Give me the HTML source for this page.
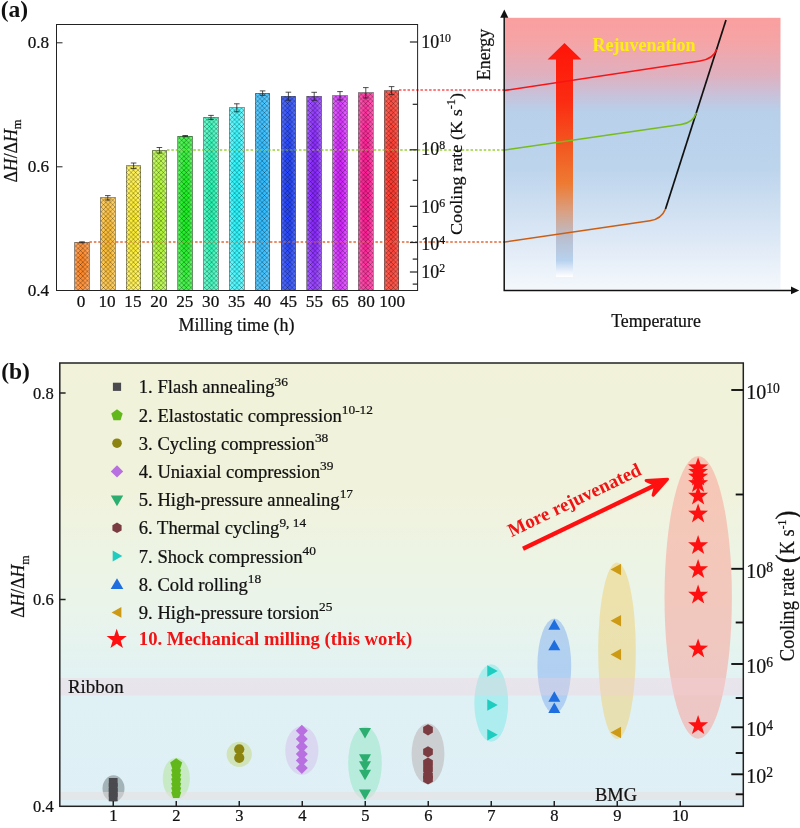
<!DOCTYPE html>
<html lang="en"><head><meta charset="utf-8"><title>Figure</title>
<style>
html,body{margin:0;padding:0;background:#fff;}
body{width:800px;height:828px;overflow:hidden;}
svg{display:block;}
text{font-family:"Liberation Serif", "DejaVu Serif", serif;fill:#111;stroke:#111;stroke-width:0.22px;}
.b{font-weight:bold;}
.i{font-style:italic;}
</style></head><body>
<svg width="800" height="828" viewBox="0 0 800 828">
<defs>
<pattern id="hatch" width="4.60" height="4.60" patternUnits="userSpaceOnUse"><path d="M-1,-1 L5.60,5.60 M-1,5.60 L5.60,-1" stroke="#000" stroke-opacity="0.42" stroke-width="0.75" fill="none"/></pattern>
<linearGradient id="bg0" x1="0" x2="1" y1="0" y2="0"><stop offset="0" stop-color="#ffaa65"/><stop offset="0.5" stop-color="#ff9743"/><stop offset="1" stop-color="#ffaa65"/></linearGradient>
<radialGradient id="rg0" cx="0.5" cy="0.5" r="0.5"><stop offset="0" stop-color="#fa8527" stop-opacity="1"/><stop offset="0.45" stop-color="#ff8828" stop-opacity="0.8"/><stop offset="1" stop-color="#ff8828" stop-opacity="0"/></radialGradient>
<linearGradient id="bg1" x1="0" x2="1" y1="0" y2="0"><stop offset="0" stop-color="#fdd271"/><stop offset="0.5" stop-color="#fcc64f"/><stop offset="1" stop-color="#fdd271"/></linearGradient>
<radialGradient id="rg1" cx="0.5" cy="0.5" r="0.5"><stop offset="0" stop-color="#f7b833" stop-opacity="1"/><stop offset="0.45" stop-color="#fcbc34" stop-opacity="0.8"/><stop offset="1" stop-color="#fcbc34" stop-opacity="0"/></radialGradient>
<linearGradient id="bg2" x1="0" x2="1" y1="0" y2="0"><stop offset="0" stop-color="#fff57b"/><stop offset="0.5" stop-color="#fff152"/><stop offset="1" stop-color="#fff57b"/></linearGradient>
<radialGradient id="rg2" cx="0.5" cy="0.5" r="0.5"><stop offset="0" stop-color="#fae92f" stop-opacity="1"/><stop offset="0.45" stop-color="#ffee30" stop-opacity="0.8"/><stop offset="1" stop-color="#ffee30" stop-opacity="0"/></radialGradient>
<linearGradient id="bg3" x1="0" x2="1" y1="0" y2="0"><stop offset="0" stop-color="#c9fa74"/><stop offset="0.5" stop-color="#baf94f"/><stop offset="1" stop-color="#c9fa74"/></linearGradient>
<radialGradient id="rg3" cx="0.5" cy="0.5" r="0.5"><stop offset="0" stop-color="#abf32f" stop-opacity="1"/><stop offset="0.45" stop-color="#aef830" stop-opacity="0.8"/><stop offset="1" stop-color="#aef830" stop-opacity="0"/></radialGradient>
<linearGradient id="bg4" x1="0" x2="1" y1="0" y2="0"><stop offset="0" stop-color="#67f76b"/><stop offset="0.5" stop-color="#3ef344"/><stop offset="1" stop-color="#67f76b"/></linearGradient>
<radialGradient id="rg4" cx="0.5" cy="0.5" r="0.5"><stop offset="0" stop-color="#1beb23" stop-opacity="1"/><stop offset="0.45" stop-color="#1cf024" stop-opacity="0.8"/><stop offset="1" stop-color="#1cf024" stop-opacity="0"/></radialGradient>
<linearGradient id="bg5" x1="0" x2="1" y1="0" y2="0"><stop offset="0" stop-color="#6ffbcf"/><stop offset="0.5" stop-color="#48f9c0"/><stop offset="1" stop-color="#6ffbcf"/></linearGradient>
<radialGradient id="rg5" cx="0.5" cy="0.5" r="0.5"><stop offset="0" stop-color="#27f3b0" stop-opacity="1"/><stop offset="0.45" stop-color="#28f8b4" stop-opacity="0.8"/><stop offset="1" stop-color="#28f8b4" stop-opacity="0"/></radialGradient>
<linearGradient id="bg6" x1="0" x2="1" y1="0" y2="0"><stop offset="0" stop-color="#73fbff"/><stop offset="0.5" stop-color="#4af9ff"/><stop offset="1" stop-color="#73fbff"/></linearGradient>
<radialGradient id="rg6" cx="0.5" cy="0.5" r="0.5"><stop offset="0" stop-color="#27f3fa" stop-opacity="1"/><stop offset="0.45" stop-color="#28f8ff" stop-opacity="0.8"/><stop offset="1" stop-color="#28f8ff" stop-opacity="0"/></radialGradient>
<linearGradient id="bg7" x1="0" x2="1" y1="0" y2="0"><stop offset="0" stop-color="#63cdff"/><stop offset="0.5" stop-color="#47c4ff"/><stop offset="1" stop-color="#63cdff"/></linearGradient>
<radialGradient id="rg7" cx="0.5" cy="0.5" r="0.5"><stop offset="0" stop-color="#2fb8fa" stop-opacity="1"/><stop offset="0.45" stop-color="#30bcff" stop-opacity="0.8"/><stop offset="1" stop-color="#30bcff" stop-opacity="0"/></radialGradient>
<linearGradient id="bg8" x1="0" x2="1" y1="0" y2="0"><stop offset="0" stop-color="#5470fc"/><stop offset="0.5" stop-color="#3a58fb"/><stop offset="1" stop-color="#5470fc"/></linearGradient>
<radialGradient id="rg8" cx="0.5" cy="0.5" r="0.5"><stop offset="0" stop-color="#2343f5" stop-opacity="1"/><stop offset="0.45" stop-color="#2444fa" stop-opacity="0.8"/><stop offset="1" stop-color="#2444fa" stop-opacity="0"/></radialGradient>
<linearGradient id="bg9" x1="0" x2="1" y1="0" y2="0"><stop offset="0" stop-color="#a761ff"/><stop offset="0.5" stop-color="#963fff"/><stop offset="1" stop-color="#a761ff"/></linearGradient>
<radialGradient id="rg9" cx="0.5" cy="0.5" r="0.5"><stop offset="0" stop-color="#8523fa" stop-opacity="1"/><stop offset="0.45" stop-color="#8824ff" stop-opacity="0.8"/><stop offset="1" stop-color="#8824ff" stop-opacity="0"/></radialGradient>
<linearGradient id="bg10" x1="0" x2="1" y1="0" y2="0"><stop offset="0" stop-color="#e365ff"/><stop offset="0.5" stop-color="#db41ff"/><stop offset="1" stop-color="#e365ff"/></linearGradient>
<radialGradient id="rg10" cx="0.5" cy="0.5" r="0.5"><stop offset="0" stop-color="#d023fa" stop-opacity="1"/><stop offset="0.45" stop-color="#d424ff" stop-opacity="0.8"/><stop offset="1" stop-color="#d424ff" stop-opacity="0"/></radialGradient>
<linearGradient id="bg11" x1="0" x2="1" y1="0" y2="0"><stop offset="0" stop-color="#ff5db3"/><stop offset="0.5" stop-color="#ff39a2"/><stop offset="1" stop-color="#ff5db3"/></linearGradient>
<radialGradient id="rg11" cx="0.5" cy="0.5" r="0.5"><stop offset="0" stop-color="#fa1b91" stop-opacity="1"/><stop offset="0.45" stop-color="#ff1c94" stop-opacity="0.8"/><stop offset="1" stop-color="#ff1c94" stop-opacity="0"/></radialGradient>
<linearGradient id="bg12" x1="0" x2="1" y1="0" y2="0"><stop offset="0" stop-color="#ff685c"/><stop offset="0.5" stop-color="#ff4f44"/><stop offset="1" stop-color="#ff685c"/></linearGradient>
<radialGradient id="rg12" cx="0.5" cy="0.5" r="0.5"><stop offset="0" stop-color="#fa392f" stop-opacity="1"/><stop offset="0.45" stop-color="#ff3a30" stop-opacity="0.8"/><stop offset="1" stop-color="#ff3a30" stop-opacity="0"/></radialGradient>
<linearGradient id="sch" x1="0" x2="0" y1="0" y2="1"><stop offset="0" stop-color="#fa9f9f"/><stop offset="0.09" stop-color="#f5a4a6"/><stop offset="0.21" stop-color="#dfb0bf"/><stop offset="0.29" stop-color="#c6c3dc"/><stop offset="0.345" stop-color="#b8d0ea"/><stop offset="0.55" stop-color="#bcd4ec"/><stop offset="0.80" stop-color="#dbe7f5"/><stop offset="1" stop-color="#f4f8fc"/></linearGradient>
<linearGradient id="arr" gradientUnits="userSpaceOnUse" x1="0" x2="0" y1="43" y2="277"><stop offset="0" stop-color="#ff1408"/><stop offset="0.25" stop-color="#fb2c12"/><stop offset="0.45" stop-color="#f25a22"/><stop offset="0.60" stop-color="#ee7a32"/><stop offset="0.72" stop-color="#d9a082"/><stop offset="0.84" stop-color="#b9c0d2"/><stop offset="0.93" stop-color="#b7d2ee"/><stop offset="0.975" stop-color="#e8f0fa"/><stop offset="1" stop-color="#ffffff"/></linearGradient>
<linearGradient id="pb" x1="0" x2="0" y1="0" y2="1"><stop offset="0" stop-color="#f2f2da"/><stop offset="0.28" stop-color="#f1f2dc"/><stop offset="0.43" stop-color="#edf4e4"/><stop offset="0.55" stop-color="#eaf4ea"/><stop offset="0.65" stop-color="#e5f3f0"/><stop offset="0.75" stop-color="#e0f1f5"/><stop offset="1" stop-color="#def0f6"/></linearGradient>
</defs>
<rect x="0" y="0" width="800" height="828" fill="#ffffff"/>
<text class="b" x="0.8" y="16.8" font-size="23.5" style="stroke:none">(a)</text>
<g opacity="1.00">
<line x1="89.5" y1="242.0" x2="505" y2="242.0" stroke="#e8784a" stroke-width="1.35" stroke-dasharray="2.4 2.0"/>
<line x1="167" y1="150.0" x2="505" y2="150.0" stroke="#a4d84c" stroke-width="1.45" stroke-dasharray="2.4 2.0"/>
<line x1="399" y1="90.0" x2="505" y2="90.0" stroke="#ff6464" stroke-width="1.6" stroke-dasharray="2.4 1.9"/>
</g>
<rect x="74.70" y="242.30" width="14.60" height="48.20" fill="url(#bg0)"/>
<rect x="74.70" y="242.30" width="14.60" height="48.20" fill="url(#rg0)"/>
<rect x="74.70" y="242.30" width="14.60" height="48.20" fill="url(#hatch)"/>
<rect x="74.70" y="242.30" width="14.60" height="48.20" fill="none" stroke="#2a2a2a" stroke-opacity="0.6" stroke-width="0.8" shape-rendering="crispEdges"/>
<rect x="100.50" y="197.80" width="14.60" height="92.70" fill="url(#bg1)"/>
<rect x="100.50" y="197.80" width="14.60" height="92.70" fill="url(#rg1)"/>
<rect x="100.50" y="197.80" width="14.60" height="92.70" fill="url(#hatch)"/>
<rect x="100.50" y="197.80" width="14.60" height="92.70" fill="none" stroke="#2a2a2a" stroke-opacity="0.6" stroke-width="0.8" shape-rendering="crispEdges"/>
<rect x="126.30" y="165.80" width="14.60" height="124.70" fill="url(#bg2)"/>
<rect x="126.30" y="165.80" width="14.60" height="124.70" fill="url(#rg2)"/>
<rect x="126.30" y="165.80" width="14.60" height="124.70" fill="url(#hatch)"/>
<rect x="126.30" y="165.80" width="14.60" height="124.70" fill="none" stroke="#2a2a2a" stroke-opacity="0.6" stroke-width="0.8" shape-rendering="crispEdges"/>
<rect x="152.10" y="150.30" width="14.60" height="140.20" fill="url(#bg3)"/>
<rect x="152.10" y="150.30" width="14.60" height="140.20" fill="url(#rg3)"/>
<rect x="152.10" y="150.30" width="14.60" height="140.20" fill="url(#hatch)"/>
<rect x="152.10" y="150.30" width="14.60" height="140.20" fill="none" stroke="#2a2a2a" stroke-opacity="0.6" stroke-width="0.8" shape-rendering="crispEdges"/>
<rect x="177.90" y="136.10" width="14.60" height="154.40" fill="url(#bg4)"/>
<rect x="177.90" y="136.10" width="14.60" height="154.40" fill="url(#rg4)"/>
<rect x="177.90" y="136.10" width="14.60" height="154.40" fill="url(#hatch)"/>
<rect x="177.90" y="136.10" width="14.60" height="154.40" fill="none" stroke="#2a2a2a" stroke-opacity="0.6" stroke-width="0.8" shape-rendering="crispEdges"/>
<rect x="203.70" y="117.40" width="14.60" height="173.10" fill="url(#bg5)"/>
<rect x="203.70" y="117.40" width="14.60" height="173.10" fill="url(#rg5)"/>
<rect x="203.70" y="117.40" width="14.60" height="173.10" fill="url(#hatch)"/>
<rect x="203.70" y="117.40" width="14.60" height="173.10" fill="none" stroke="#2a2a2a" stroke-opacity="0.6" stroke-width="0.8" shape-rendering="crispEdges"/>
<rect x="229.50" y="107.80" width="14.60" height="182.70" fill="url(#bg6)"/>
<rect x="229.50" y="107.80" width="14.60" height="182.70" fill="url(#rg6)"/>
<rect x="229.50" y="107.80" width="14.60" height="182.70" fill="url(#hatch)"/>
<rect x="229.50" y="107.80" width="14.60" height="182.70" fill="none" stroke="#2a2a2a" stroke-opacity="0.6" stroke-width="0.8" shape-rendering="crispEdges"/>
<rect x="255.30" y="93.10" width="14.60" height="197.40" fill="url(#bg7)"/>
<rect x="255.30" y="93.10" width="14.60" height="197.40" fill="url(#rg7)"/>
<rect x="255.30" y="93.10" width="14.60" height="197.40" fill="url(#hatch)"/>
<rect x="255.30" y="93.10" width="14.60" height="197.40" fill="none" stroke="#2a2a2a" stroke-opacity="0.6" stroke-width="0.8" shape-rendering="crispEdges"/>
<rect x="281.10" y="96.20" width="14.60" height="194.30" fill="url(#bg8)"/>
<rect x="281.10" y="96.20" width="14.60" height="194.30" fill="url(#rg8)"/>
<rect x="281.10" y="96.20" width="14.60" height="194.30" fill="url(#hatch)"/>
<rect x="281.10" y="96.20" width="14.60" height="194.30" fill="none" stroke="#2a2a2a" stroke-opacity="0.6" stroke-width="0.8" shape-rendering="crispEdges"/>
<rect x="306.90" y="96.30" width="14.60" height="194.20" fill="url(#bg9)"/>
<rect x="306.90" y="96.30" width="14.60" height="194.20" fill="url(#rg9)"/>
<rect x="306.90" y="96.30" width="14.60" height="194.20" fill="url(#hatch)"/>
<rect x="306.90" y="96.30" width="14.60" height="194.20" fill="none" stroke="#2a2a2a" stroke-opacity="0.6" stroke-width="0.8" shape-rendering="crispEdges"/>
<rect x="332.70" y="95.80" width="14.60" height="194.70" fill="url(#bg10)"/>
<rect x="332.70" y="95.80" width="14.60" height="194.70" fill="url(#rg10)"/>
<rect x="332.70" y="95.80" width="14.60" height="194.70" fill="url(#hatch)"/>
<rect x="332.70" y="95.80" width="14.60" height="194.70" fill="none" stroke="#2a2a2a" stroke-opacity="0.6" stroke-width="0.8" shape-rendering="crispEdges"/>
<rect x="358.50" y="92.80" width="14.60" height="197.70" fill="url(#bg11)"/>
<rect x="358.50" y="92.80" width="14.60" height="197.70" fill="url(#rg11)"/>
<rect x="358.50" y="92.80" width="14.60" height="197.70" fill="url(#hatch)"/>
<rect x="358.50" y="92.80" width="14.60" height="197.70" fill="none" stroke="#2a2a2a" stroke-opacity="0.6" stroke-width="0.8" shape-rendering="crispEdges"/>
<rect x="384.30" y="90.60" width="14.60" height="199.90" fill="url(#bg12)"/>
<rect x="384.30" y="90.60" width="14.60" height="199.90" fill="url(#rg12)"/>
<rect x="384.30" y="90.60" width="14.60" height="199.90" fill="url(#hatch)"/>
<rect x="384.30" y="90.60" width="14.60" height="199.90" fill="none" stroke="#2a2a2a" stroke-opacity="0.6" stroke-width="0.8" shape-rendering="crispEdges"/>
<g opacity="0.50">
<line x1="89.5" y1="242.0" x2="505" y2="242.0" stroke="#e8784a" stroke-width="1.35" stroke-dasharray="2.4 2.0"/>
<line x1="167" y1="150.0" x2="505" y2="150.0" stroke="#a4d84c" stroke-width="1.45" stroke-dasharray="2.4 2.0"/>
<line x1="399" y1="90.0" x2="505" y2="90.0" stroke="#ff6464" stroke-width="1.6" stroke-dasharray="2.4 1.9"/>
</g>
<path d="M82.00,241.80 V242.80 M79.20,241.80 H84.80 M79.20,242.80 H84.80" stroke="#222" stroke-width="0.8" fill="none"/>
<path d="M107.80,195.60 V200.00 M105.00,195.60 H110.60 M105.00,200.00 H110.60" stroke="#222" stroke-width="0.8" fill="none"/>
<path d="M133.60,163.00 V168.60 M130.80,163.00 H136.40 M130.80,168.60 H136.40" stroke="#222" stroke-width="0.8" fill="none"/>
<path d="M159.40,147.50 V153.10 M156.60,147.50 H162.20 M156.60,153.10 H162.20" stroke="#222" stroke-width="0.8" fill="none"/>
<path d="M185.20,135.50 V136.70 M182.40,135.50 H188.00 M182.40,136.70 H188.00" stroke="#222" stroke-width="0.8" fill="none"/>
<path d="M211.00,115.40 V119.40 M208.20,115.40 H213.80 M208.20,119.40 H213.80" stroke="#222" stroke-width="0.8" fill="none"/>
<path d="M236.80,103.80 V111.80 M234.00,103.80 H239.60 M234.00,111.80 H239.60" stroke="#222" stroke-width="0.8" fill="none"/>
<path d="M262.60,90.90 V95.30 M259.80,90.90 H265.40 M259.80,95.30 H265.40" stroke="#222" stroke-width="0.8" fill="none"/>
<path d="M288.40,92.20 V100.20 M285.60,92.20 H291.20 M285.60,100.20 H291.20" stroke="#222" stroke-width="0.8" fill="none"/>
<path d="M314.20,92.30 V100.30 M311.40,92.30 H317.00 M311.40,100.30 H317.00" stroke="#222" stroke-width="0.8" fill="none"/>
<path d="M340.00,91.60 V100.00 M337.20,91.60 H342.80 M337.20,100.00 H342.80" stroke="#222" stroke-width="0.8" fill="none"/>
<path d="M365.80,87.60 V98.00 M363.00,87.60 H368.60 M363.00,98.00 H368.60" stroke="#222" stroke-width="0.8" fill="none"/>
<path d="M391.60,86.60 V94.60 M388.80,86.60 H394.40 M388.80,94.60 H394.40" stroke="#222" stroke-width="0.8" fill="none"/>
<rect x="56.5" y="24.5" width="361.1" height="266.0" fill="none" stroke="#222" stroke-width="1"/>
<line x1="56.5" y1="42.8" x2="62.5" y2="42.8" stroke="#222" stroke-width="1"/>
<line x1="56.5" y1="166.8" x2="62.5" y2="166.8" stroke="#222" stroke-width="1"/>
<text x="49.2" y="48.4" font-size="17.2" text-anchor="end">0.8</text>
<text x="49.2" y="172.4" font-size="17.2" text-anchor="end">0.6</text>
<text x="49.2" y="296.1" font-size="17.2" text-anchor="end">0.4</text>
<text x="81.1" y="307.2" font-size="17.2" text-anchor="middle">0</text>
<text x="107.0" y="307.2" font-size="17.2" text-anchor="middle">10</text>
<text x="132.9" y="307.2" font-size="17.2" text-anchor="middle">15</text>
<text x="158.9" y="307.2" font-size="17.2" text-anchor="middle">20</text>
<text x="184.8" y="307.2" font-size="17.2" text-anchor="middle">25</text>
<text x="210.7" y="307.2" font-size="17.2" text-anchor="middle">30</text>
<text x="236.6" y="307.2" font-size="17.2" text-anchor="middle">35</text>
<text x="262.5" y="307.2" font-size="17.2" text-anchor="middle">40</text>
<text x="288.5" y="307.2" font-size="17.2" text-anchor="middle">45</text>
<text x="314.4" y="307.2" font-size="17.2" text-anchor="middle">55</text>
<text x="340.3" y="307.2" font-size="17.2" text-anchor="middle">65</text>
<text x="366.2" y="307.2" font-size="17.2" text-anchor="middle">80</text>
<text x="392.1" y="307.2" font-size="17.2" text-anchor="middle">100</text>
<text x="236.5" y="331.2" font-size="18" text-anchor="middle">Milling time (h)</text>
<text transform="translate(17,151) rotate(-90)" font-size="17.8" text-anchor="middle">&#916;<tspan class="i">H</tspan>/&#916;<tspan class="i">H</tspan><tspan font-size="12.5" dy="4">m</tspan></text>
<line x1="409.9" y1="42.0" x2="417.6" y2="42.0" stroke="#222" stroke-width="1.2"/>
<text x="421.3" y="47.6" font-size="17.9">10<tspan font-size="11.8" dy="-5.4">10</tspan></text>
<line x1="409.9" y1="149.8" x2="417.6" y2="149.8" stroke="#222" stroke-width="1.2"/>
<text x="421.3" y="154.6" font-size="17.9">10<tspan font-size="11.8" dy="-5.4">8</tspan></text>
<line x1="409.9" y1="206.3" x2="417.6" y2="206.3" stroke="#222" stroke-width="1.2"/>
<text x="421.3" y="212.5" font-size="17.9">10<tspan font-size="11.8" dy="-5.4">6</tspan></text>
<line x1="409.9" y1="242.5" x2="417.6" y2="242.5" stroke="#222" stroke-width="1.2"/>
<text x="421.3" y="249.6" font-size="17.9">10<tspan font-size="11.8" dy="-5.4">4</tspan></text>
<line x1="409.9" y1="272.0" x2="417.6" y2="272.0" stroke="#222" stroke-width="1.2"/>
<text x="421.3" y="277.6" font-size="17.9">10<tspan font-size="11.8" dy="-5.4">2</tspan></text>
<line x1="412.7" y1="104.3" x2="417.6" y2="104.3" stroke="#222" stroke-width="1.2"/>
<line x1="412.7" y1="180.3" x2="417.6" y2="180.3" stroke="#222" stroke-width="1.2"/>
<line x1="412.7" y1="226.4" x2="417.6" y2="226.4" stroke="#222" stroke-width="1.2"/>
<line x1="412.7" y1="259.1" x2="417.6" y2="259.1" stroke="#222" stroke-width="1.2"/>
<line x1="412.7" y1="284.1" x2="417.6" y2="284.1" stroke="#222" stroke-width="1.2"/>
<text transform="translate(461.6,164) rotate(-90) scale(1.07,1)" font-size="17" text-anchor="middle">Cooling rate (K s<tspan font-size="11.5" dy="-6.8">-1</tspan><tspan dy="6.8">)</tspan></text>
<rect x="505" y="17.8" width="275.5" height="271.8" fill="url(#sch)"/>
<path d="M564.5,43 L581.5,59.5 L573,59.5 L573,277 L556,277 L556,59.5 L547.5,59.5 Z" fill="url(#arr)"/>
<path d="M726,20 L665.5,209" stroke="#111" stroke-width="1.7" fill="none"/>
<path d="M505,90.4 L700,61.0 Q713.5,59 716.7,49.3" stroke="#f81414" stroke-width="1.6" fill="none"/>
<path d="M505,150 L681,124.5 Q693,123 696.3,112.8" stroke="#78bc1c" stroke-width="1.6" fill="none"/>
<path d="M505,242 L650,220.8 Q661.5,219 665.5,209" stroke="#cc5e14" stroke-width="1.6" fill="none"/>
<path d="M504.2,291.1 V16 M503.5,290.4 H792" stroke="#111" stroke-width="1.5" fill="none"/>
<path d="M504.3,9.4 L508.3,17.7 L500.2,17.7 Z" fill="#111"/>
<path d="M799.2,290.4 L791,286.5 L791,294.3 Z" fill="#111"/>
<text transform="translate(489.6,54.5) rotate(-90)" font-size="17.9" text-anchor="middle">Energy</text>
<text x="656" y="327" font-size="17.8" text-anchor="middle">Temperature</text>
<text class="b" x="644" y="51" font-size="18" text-anchor="middle" style="fill:#ffee14;stroke:none">Rejuvenation</text>
<text class="b" x="1.2" y="378.6" font-size="23.5" style="stroke:none">(b)</text>
<rect x="59.8" y="363.0" width="683.5" height="443.3" fill="url(#pb)"/>
<ellipse cx="113.50" cy="788.50" rx="11.00" ry="13.20" fill="#707a7e" fill-opacity="0.52"/>
<ellipse cx="176.30" cy="778.50" rx="13.60" ry="20.80" fill="#a8e282" fill-opacity="0.42"/>
<ellipse cx="239.25" cy="754.30" rx="12.60" ry="12.60" fill="#c4d67c" fill-opacity="0.50"/>
<ellipse cx="301.80" cy="750.50" rx="16.60" ry="24.40" fill="#d4bcec" fill-opacity="0.46"/>
<ellipse cx="365.00" cy="763.00" rx="16.80" ry="36.60" fill="#94e6c4" fill-opacity="0.52"/>
<ellipse cx="428.00" cy="753.80" rx="16.40" ry="30.30" fill="#b8b0b2" fill-opacity="0.52"/>
<ellipse cx="491.25" cy="703.00" rx="16.90" ry="38.80" fill="#84eaea" fill-opacity="0.55"/>
<ellipse cx="554.30" cy="666.00" rx="16.90" ry="47.40" fill="#88b4f0" fill-opacity="0.55"/>
<ellipse cx="617.00" cy="650.80" rx="18.80" ry="88.20" fill="#f0d070" fill-opacity="0.50"/>
<ellipse cx="698.20" cy="597.40" rx="33.70" ry="141.40" fill="#fa968c" fill-opacity="0.47"/>
<rect x="59.8" y="678" width="683.5" height="17.5" fill="#f6ccda" fill-opacity="0.32"/>
<rect x="59.8" y="792" width="683.5" height="8" fill="#e8dede" fill-opacity="0.5"/>
<rect x="108.80" y="778.00" width="8.80" height="8.80" fill="#4a4a4e"/>
<rect x="108.80" y="783.10" width="8.80" height="8.80" fill="#4a4a4e"/>
<rect x="108.80" y="788.10" width="8.80" height="8.80" fill="#4a4a4e"/>
<rect x="108.80" y="792.50" width="8.80" height="8.80" fill="#4a4a4e"/>
<polygon points="176.20,758.20 182.19,762.55 179.90,769.60 172.50,769.60 170.21,762.55" fill="#62b81a"/>
<polygon points="176.20,766.20 181.24,769.86 179.32,775.79 173.08,775.79 171.16,769.86" fill="#62b81a"/>
<polygon points="176.20,770.70 181.24,774.36 179.32,780.29 173.08,780.29 171.16,774.36" fill="#62b81a"/>
<polygon points="176.20,775.20 181.24,778.86 179.32,784.79 173.08,784.79 171.16,778.86" fill="#62b81a"/>
<polygon points="176.20,779.70 181.24,783.36 179.32,789.29 173.08,789.29 171.16,783.36" fill="#62b81a"/>
<polygon points="176.20,784.20 181.24,787.86 179.32,793.79 173.08,793.79 171.16,787.86" fill="#62b81a"/>
<polygon points="176.20,788.50 181.24,792.16 179.32,798.09 173.08,798.09 171.16,792.16" fill="#62b81a"/>
<circle cx="239.25" cy="749.30" r="5.10" fill="#8c8410"/>
<circle cx="239.25" cy="757.80" r="5.10" fill="#8c8410"/>
<polygon points="301.80,724.80 307.80,730.80 301.80,736.80 295.80,730.80" fill="#b870e0"/>
<polygon points="301.80,733.00 307.80,739.00 301.80,745.00 295.80,739.00" fill="#b870e0"/>
<polygon points="301.80,740.80 307.80,746.80 301.80,752.80 295.80,746.80" fill="#b870e0"/>
<polygon points="301.80,748.00 307.80,754.00 301.80,760.00 295.80,754.00" fill="#b870e0"/>
<polygon points="301.80,754.50 307.80,760.50 301.80,766.50 295.80,760.50" fill="#b870e0"/>
<polygon points="301.80,762.00 307.80,768.00 301.80,774.00 295.80,768.00" fill="#b870e0"/>
<polygon points="359.00,728.05 371.00,728.05 365.00,738.55" fill="#2cae70"/>
<polygon points="359.00,754.35 371.00,754.35 365.00,764.85" fill="#2cae70"/>
<polygon points="359.00,761.25 371.00,761.25 365.00,771.75" fill="#2cae70"/>
<polygon points="359.00,769.75 371.00,769.75 365.00,780.25" fill="#2cae70"/>
<polygon points="359.00,789.55 371.00,789.55 365.00,800.05" fill="#2cae70"/>
<polygon points="428.00,724.20 432.85,727.00 432.85,732.60 428.00,735.40 423.15,732.60 423.15,727.00" fill="#7a3c40"/>
<polygon points="428.00,746.20 432.85,749.00 432.85,754.60 428.00,757.40 423.15,754.60 423.15,749.00" fill="#7a3c40"/>
<polygon points="428.00,757.40 432.85,760.20 432.85,765.80 428.00,768.60 423.15,765.80 423.15,760.20" fill="#7a3c40"/>
<polygon points="428.00,763.40 432.85,766.20 432.85,771.80 428.00,774.60 423.15,771.80 423.15,766.20" fill="#7a3c40"/>
<polygon points="428.00,769.90 432.85,772.70 432.85,778.30 428.00,781.10 423.15,778.30 423.15,772.70" fill="#7a3c40"/>
<polygon points="428.00,773.40 432.85,776.20 432.85,781.80 428.00,784.60 423.15,781.80 423.15,776.20" fill="#7a3c40"/>
<polygon points="487.25,665.25 487.25,676.75 497.75,671.00" fill="#1ecdc0"/>
<polygon points="487.25,699.25 487.25,710.75 497.75,705.00" fill="#1ecdc0"/>
<polygon points="487.25,729.05 487.25,740.55 497.75,734.80" fill="#1ecdc0"/>
<polygon points="548.30,629.75 560.30,629.75 554.30,619.25" fill="#1e6ee0"/>
<polygon points="548.30,650.25 560.30,650.25 554.30,639.75" fill="#1e6ee0"/>
<polygon points="548.30,701.75 560.30,701.75 554.30,691.25" fill="#1e6ee0"/>
<polygon points="548.30,713.05 560.30,713.05 554.30,702.55" fill="#1e6ee0"/>
<polygon points="621.05,563.75 621.05,575.25 610.55,569.50" fill="#cc9a14"/>
<polygon points="621.05,615.05 621.05,626.55 610.55,620.80" fill="#cc9a14"/>
<polygon points="621.05,648.75 621.05,660.25 610.55,654.50" fill="#cc9a14"/>
<polygon points="621.05,726.75 621.05,738.25 610.55,732.50" fill="#cc9a14"/>
<polygon points="698.10,457.20 700.57,464.30 708.09,464.46 702.09,469.00 704.27,476.19 698.10,471.90 691.93,476.19 694.11,469.00 688.11,464.46 695.63,464.30" fill="#ff1010"/>
<polygon points="698.10,461.70 700.57,468.80 708.09,468.96 702.09,473.50 704.27,480.69 698.10,476.40 691.93,480.69 694.11,473.50 688.11,468.96 695.63,468.80" fill="#ff1010"/>
<polygon points="698.10,466.40 700.57,473.50 708.09,473.66 702.09,478.20 704.27,485.39 698.10,481.10 691.93,485.39 694.11,478.20 688.11,473.66 695.63,473.50" fill="#ff1010"/>
<polygon points="698.10,473.00 700.57,480.10 708.09,480.26 702.09,484.80 704.27,491.99 698.10,487.70 691.93,491.99 694.11,484.80 688.11,480.26 695.63,480.10" fill="#ff1010"/>
<polygon points="698.10,485.60 700.57,492.70 708.09,492.86 702.09,497.40 704.27,504.59 698.10,500.30 691.93,504.59 694.11,497.40 688.11,492.86 695.63,492.70" fill="#ff1010"/>
<polygon points="698.10,503.40 700.57,510.50 708.09,510.66 702.09,515.20 704.27,522.39 698.10,518.10 691.93,522.39 694.11,515.20 688.11,510.66 695.63,510.50" fill="#ff1010"/>
<polygon points="698.10,535.10 700.57,542.20 708.09,542.36 702.09,546.90 704.27,554.09 698.10,549.80 691.93,554.09 694.11,546.90 688.11,542.36 695.63,542.20" fill="#ff1010"/>
<polygon points="698.10,559.10 700.57,566.20 708.09,566.36 702.09,570.90 704.27,578.09 698.10,573.80 691.93,578.09 694.11,570.90 688.11,566.36 695.63,566.20" fill="#ff1010"/>
<polygon points="698.10,584.60 700.57,591.70 708.09,591.86 702.09,596.40 704.27,603.59 698.10,599.30 691.93,603.59 694.11,596.40 688.11,591.86 695.63,591.70" fill="#ff1010"/>
<polygon points="698.10,638.40 700.57,645.50 708.09,645.66 702.09,650.20 704.27,657.39 698.10,653.10 691.93,657.39 694.11,650.20 688.11,645.66 695.63,645.50" fill="#ff1010"/>
<polygon points="698.10,715.10 700.57,722.20 708.09,722.36 702.09,726.90 704.27,734.09 698.10,729.80 691.93,734.09 694.11,726.90 688.11,722.36 695.63,722.20" fill="#ff1010"/>
<rect x="59.8" y="363.0" width="683.5" height="443.3" fill="none" stroke="#222" stroke-width="1.5"/>
<line x1="59.8" y1="393.0" x2="65.6" y2="393.0" stroke="#222" stroke-width="1.5"/>
<text x="53.7" y="398.6" font-size="16.5" text-anchor="end">0.8</text>
<line x1="59.8" y1="599.5" x2="65.6" y2="599.5" stroke="#222" stroke-width="1.5"/>
<text x="53.7" y="605.1" font-size="16.5" text-anchor="end">0.6</text>
<text x="53.7" y="811.6" font-size="16.5" text-anchor="end">0.4</text>
<line x1="113.25" y1="806.3" x2="113.25" y2="801.1" stroke="#222" stroke-width="1.5"/>
<text x="113.25" y="821.4" font-size="16.5" text-anchor="middle">1</text>
<line x1="176.25" y1="806.3" x2="176.25" y2="801.1" stroke="#222" stroke-width="1.5"/>
<text x="176.25" y="821.4" font-size="16.5" text-anchor="middle">2</text>
<line x1="239.25" y1="806.3" x2="239.25" y2="801.1" stroke="#222" stroke-width="1.5"/>
<text x="239.25" y="821.4" font-size="16.5" text-anchor="middle">3</text>
<line x1="302.25" y1="806.3" x2="302.25" y2="801.1" stroke="#222" stroke-width="1.5"/>
<text x="302.25" y="821.4" font-size="16.5" text-anchor="middle">4</text>
<line x1="365.25" y1="806.3" x2="365.25" y2="801.1" stroke="#222" stroke-width="1.5"/>
<text x="365.25" y="821.4" font-size="16.5" text-anchor="middle">5</text>
<line x1="428.25" y1="806.3" x2="428.25" y2="801.1" stroke="#222" stroke-width="1.5"/>
<text x="428.25" y="821.4" font-size="16.5" text-anchor="middle">6</text>
<line x1="491.25" y1="806.3" x2="491.25" y2="801.1" stroke="#222" stroke-width="1.5"/>
<text x="491.25" y="821.4" font-size="16.5" text-anchor="middle">7</text>
<line x1="554.25" y1="806.3" x2="554.25" y2="801.1" stroke="#222" stroke-width="1.5"/>
<text x="554.25" y="821.4" font-size="16.5" text-anchor="middle">8</text>
<line x1="617.25" y1="806.3" x2="617.25" y2="801.1" stroke="#222" stroke-width="1.5"/>
<text x="617.25" y="821.4" font-size="16.5" text-anchor="middle">9</text>
<line x1="680.25" y1="806.3" x2="680.25" y2="801.1" stroke="#222" stroke-width="1.5"/>
<text x="680.25" y="821.4" font-size="16.5" text-anchor="middle">10</text>
<line x1="731.3" y1="390.0" x2="743.3" y2="390.0" stroke="#111" stroke-width="1.9"/>
<text x="746.3" y="399.0" font-size="20">10<tspan font-size="13.6" dy="-6.3">10</tspan></text>
<line x1="731.3" y1="568.8" x2="743.3" y2="568.8" stroke="#111" stroke-width="1.9"/>
<text x="746.3" y="577.8" font-size="20">10<tspan font-size="13.6" dy="-6.3">8</tspan></text>
<line x1="731.3" y1="664.0" x2="743.3" y2="664.0" stroke="#111" stroke-width="1.9"/>
<text x="746.3" y="673.0" font-size="20">10<tspan font-size="13.6" dy="-6.3">6</tspan></text>
<line x1="731.3" y1="727.3" x2="743.3" y2="727.3" stroke="#111" stroke-width="1.9"/>
<text x="746.3" y="736.3" font-size="20">10<tspan font-size="13.6" dy="-6.3">4</tspan></text>
<line x1="731.3" y1="774.3" x2="743.3" y2="774.3" stroke="#111" stroke-width="1.9"/>
<text x="746.3" y="783.3" font-size="20">10<tspan font-size="13.6" dy="-6.3">2</tspan></text>
<line x1="735.7" y1="494.5" x2="743.3" y2="494.5" stroke="#111" stroke-width="1.9"/>
<line x1="735.7" y1="622.5" x2="743.3" y2="622.5" stroke="#111" stroke-width="1.9"/>
<line x1="735.7" y1="698.0" x2="743.3" y2="698.0" stroke="#111" stroke-width="1.9"/>
<line x1="735.7" y1="753.0" x2="743.3" y2="753.0" stroke="#111" stroke-width="1.9"/>
<line x1="735.7" y1="794.3" x2="743.3" y2="794.3" stroke="#111" stroke-width="1.9"/>
<text transform="translate(794,568.3) rotate(-90) scale(0.92,1)" font-size="20.3" text-anchor="end">Cooling rate</text>
<text transform="translate(794,563.2) rotate(-90) scale(0.9,1)" font-size="20.3"><tspan font-size="30" dy="2">(</tspan><tspan dy="-2">K s</tspan><tspan font-size="13" dy="-8">-1</tspan><tspan font-size="30" dy="10">)</tspan></text>
<text transform="translate(24.3,586.5) rotate(-90) scale(0.9,1)" font-size="19.6" text-anchor="middle">&#916;<tspan class="i">H</tspan>/&#916;<tspan class="i">H</tspan><tspan font-size="13.5" dy="4.5">m</tspan></text>
<text x="68" y="693.1" font-size="18.9">Ribbon</text>
<text x="637" y="801" font-size="18.4" text-anchor="end">BMG</text>
<rect x="112.90" y="382.70" width="8.20" height="8.20" fill="#4a4a4e"/>
<polygon points="117.00,409.30 122.71,413.45 120.53,420.15 113.47,420.15 111.29,413.45" fill="#62b81a"/>
<circle cx="117.00" cy="443.20" r="4.80" fill="#8c8410"/>
<polygon points="117.00,465.20 123.20,471.40 117.00,477.60 110.80,471.40" fill="#b870e0"/>
<polygon points="110.80,495.40 123.20,495.40 117.00,506.20" fill="#2cae70"/>
<polygon points="117.00,522.50 121.59,525.15 121.59,530.45 117.00,533.10 112.41,530.45 112.41,525.15" fill="#7a3c40"/>
<polygon points="112.70,550.60 112.70,561.40 122.30,556.00" fill="#1ecdc0"/>
<polygon points="110.70,589.10 123.30,589.10 117.00,578.30" fill="#1e6ee0"/>
<polygon points="121.40,607.00 121.40,617.80 111.60,612.40" fill="#cc9a14"/>
<polygon points="116.70,628.80 119.19,635.97 126.78,636.12 120.73,640.71 122.93,647.98 116.70,643.64 110.47,647.98 112.67,640.71 106.62,636.12 114.21,635.97" fill="#ff1010"/>
<text x="138.8" y="393.4" font-size="18.6">1. Flash annealing<tspan font-size="13.4" dy="-7.8">36</tspan></text>
<text x="138.8" y="421.6" font-size="18.6">2. Elastostatic compression<tspan font-size="13.4" dy="-7.8">10-12</tspan></text>
<text x="138.8" y="449.8" font-size="18.6">3. Cycling compression<tspan font-size="13.4" dy="-7.8">38</tspan></text>
<text x="138.8" y="478.0" font-size="18.6">4. Uniaxial compression<tspan font-size="13.4" dy="-7.8">39</tspan></text>
<text x="138.8" y="506.2" font-size="18.6">5. High-pressure annealing<tspan font-size="13.4" dy="-7.8">17</tspan></text>
<text x="138.8" y="534.4" font-size="18.6">6. Thermal cycling<tspan font-size="13.4" dy="-7.8">9, 14</tspan></text>
<text x="138.8" y="562.6" font-size="18.6">7. Shock compression<tspan font-size="13.4" dy="-7.8">40</tspan></text>
<text x="138.8" y="590.8" font-size="18.6">8. Cold rolling<tspan font-size="13.4" dy="-7.8">18</tspan></text>
<text x="138.8" y="619.0" font-size="18.6">9. High-pressure torsion<tspan font-size="13.4" dy="-7.8">25</tspan></text>
<text class="b" x="138.8" y="644.8" font-size="18.7" style="fill:#f01414;stroke:none">10. Mechanical milling (this work)</text>
<g transform="translate(523,548.8) rotate(-25.70)">
<line x1="0" y1="0" x2="147" y2="0" stroke="#ff1010" stroke-width="4.3"/>
<path d="M160.3,0 L140.6,-8.1 L147.5,0 L140.6,8.1 Z" fill="#ff1010" stroke="#ff1010" stroke-width="3.2" stroke-linejoin="round"/>
<text class="b" x="-5.3" y="-15.5" font-size="19" style="fill:#f01414;stroke:none">More rejuvenated</text>
</g>
</svg>
</body></html>
